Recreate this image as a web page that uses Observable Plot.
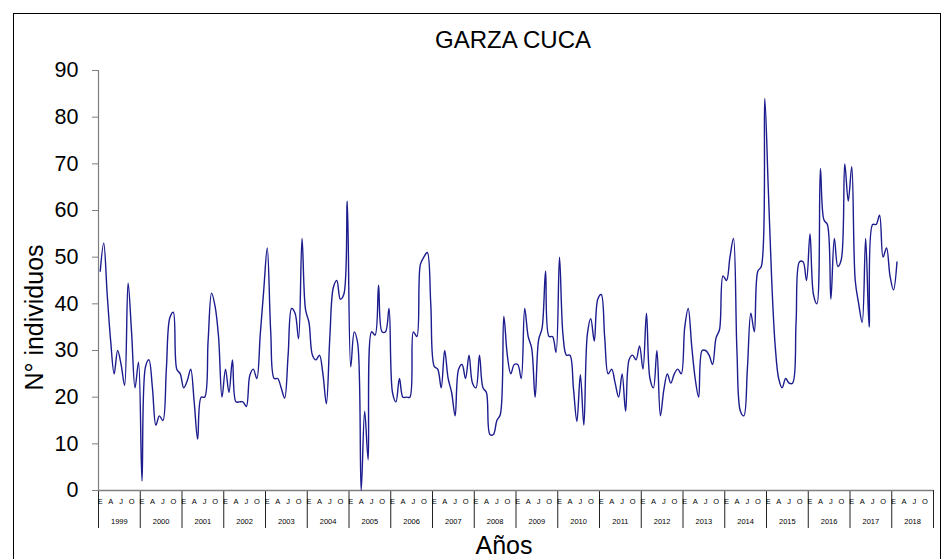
<!DOCTYPE html>
<html><head><meta charset="utf-8">
<script src="https://cdn.jsdelivr.net/npm/d3@7"></script>
<script src="https://cdn.jsdelivr.net/npm/@observablehq/plot@0.6"></script>
<style>
body{margin:0;background:#fff;}
#wrap{position:relative;width:943px;height:559px;overflow:hidden;background:#fff;}
#border{position:absolute;left:13px;top:13px;width:928px;height:600px;border:1px solid #000;box-sizing:border-box;pointer-events:none;}
</style></head><body>
<div id="wrap"><div id="chart"></div><div id="border"></div></div>
<script>
const title = "GARZA CUCA";
const yLabel = "N° individuos";
const xLabel = "Años";
const years = d3.range(1999, 2019);
const monthLetters = ["E", "A", "J", "O"];
const monthOffsets = [0, 3, 6, 9];
const yTicks = [0, 10, 20, 30, 40, 50, 60, 70, 80, 90];

// monthly counts (Jan..Dec)
const v1999 = [47, 53, 42, 32, 25, 30, 27, 22.5, 44.5, 34, 22, 27.5];
const v2000 = [2, 26.5, 28, 22, 14, 16, 15, 26, 37, 38.2, 26, 25];
const v2001 = [22, 23.5, 26, 19, 11, 20, 20, 32, 42.3, 39.5, 33, 20];
const v2002 = [26, 21, 28, 19, 19, 19, 18, 24.7, 26, 24, 33.5, 43];
const v2003 = [52, 34, 24, 24, 22, 19.8, 29, 39, 38, 32.5, 54, 38.8];
const v2004 = [36, 29, 28, 29, 25, 18.6, 33, 43.5, 45, 41, 42, 62];
const v2005 = [26.5, 34, 31.5, 0, 17, 6.6, 34, 33.3, 44, 34, 34, 39];
const v2006 = [21, 19, 24, 20, 20, 20, 34, 33, 48.4, 50, 51, 40];
const v2007 = [26.6, 26, 22, 30, 24, 21, 16, 26, 27, 24, 29, 23];
const v2008 = [22, 29, 22, 21, 12, 12, 15, 16.3, 37.3, 29, 25, 27];
const v2009 = [27, 24, 39, 33, 30.5, 20, 32.3, 34.8, 47, 33, 33, 29.6];
const v2010 = [50, 33.4, 29, 29, 22, 14.8, 24.8, 14, 33.4, 36.8, 32, 41];
const v2011 = [42, 32.7, 25, 26, 23, 20, 25, 17, 28, 29, 28, 31];
const v2012 = [26, 38, 24, 22, 30, 16, 21.6, 25, 23, 25, 26, 25];
const v2013 = [35, 39, 31, 24, 20, 30, 30, 29, 27, 32.7, 34.5, 46];
const v2014 = [45, 50, 54, 30, 17, 16, 26, 38, 34, 47, 48, 84];
const v2015 = [65, 45, 31, 24, 22, 24, 23, 23, 36, 49, 49, 45];
const v2016 = [55, 42, 40, 69, 58, 57, 41, 54, 48, 49.5, 70, 62];
const v2017 = [69.4, 45, 40, 36, 54, 35, 57, 57, 59, 50, 52, 46];
const v2018 = [43, 49];

const allValues = [].concat(v1999, v2000, v2001, v2002, v2003, v2004, v2005, v2006, v2007, v2008,
  v2009, v2010, v2011, v2012, v2013, v2014, v2015, v2016, v2017, v2018);
const series = allValues.map((v, i) => ({m: i + 0.5, v}));

const boundaries = d3.range(0, years.length * 12 + 1, 12);
const monthTicks = years.flatMap((y, k) => monthOffsets.map((o, j) => ({m: k * 12 + o + 0.5, label: monthLetters[j]})));
const yearTicks = years.map((y, k) => ({m: k * 12 + 6, label: String(y)}));

const font = "'Liberation Sans', Arial, sans-serif";

const chart = Plot.plot({
  width: 943,
  height: 559,
  marginLeft: 98,
  marginRight: 10,
  marginTop: 70,
  marginBottom: 69,
  x: {domain: [0, years.length * 12], axis: null},
  y: {domain: [0, 90], axis: null},
  style: {fontFamily: font, background: "white", color: "#000", overflow: "visible"},
  marks: [
    Plot.axisY({ticks: yTicks, tickSize: 6, tickPadding: 14, fontSize: 21.5, label: null, stroke: "#7f7f7f", fill: "#000"}),
    Plot.axisX({ticks: boundaries, tickSize: 38, tickFormat: () => "", label: null, stroke: "#222"}),
    Plot.ruleX([0], {stroke: "#7f7f7f", strokeWidth: 1.2}),
    Plot.ruleY([0], {stroke: "#7f7f7f", strokeWidth: 1.5}),
    Plot.text(monthTicks, {x: "m", text: "label", frameAnchor: "bottom", lineAnchor: "middle", dy: 11, fontSize: 7.5, fill: "#000"}),
    Plot.text(yearTicks, {x: "m", text: "label", frameAnchor: "bottom", lineAnchor: "middle", dy: 31, fontSize: 7.5, fill: "#000"}),
    Plot.line(series, {x: "m", y: "v", curve: "catmull-rom", stroke: "#1c1c8e", strokeWidth: 1.4}),
    Plot.text([title], {frameAnchor: "top", lineAnchor: "middle", dx: -3, dy: -30, fontSize: 24, fill: "#000"}),
    Plot.text([yLabel], {frameAnchor: "left", textAnchor: "middle", lineAnchor: "middle", rotate: -90, dx: -64, dy: 37, fontSize: 25, fill: "#000"}),
    Plot.text([xLabel], {frameAnchor: "bottom", lineAnchor: "middle", dx: -12, dy: 55, fontSize: 25, fill: "#000"})
  ]
});
document.getElementById("chart").appendChild(chart);
</script>
</body></html>
